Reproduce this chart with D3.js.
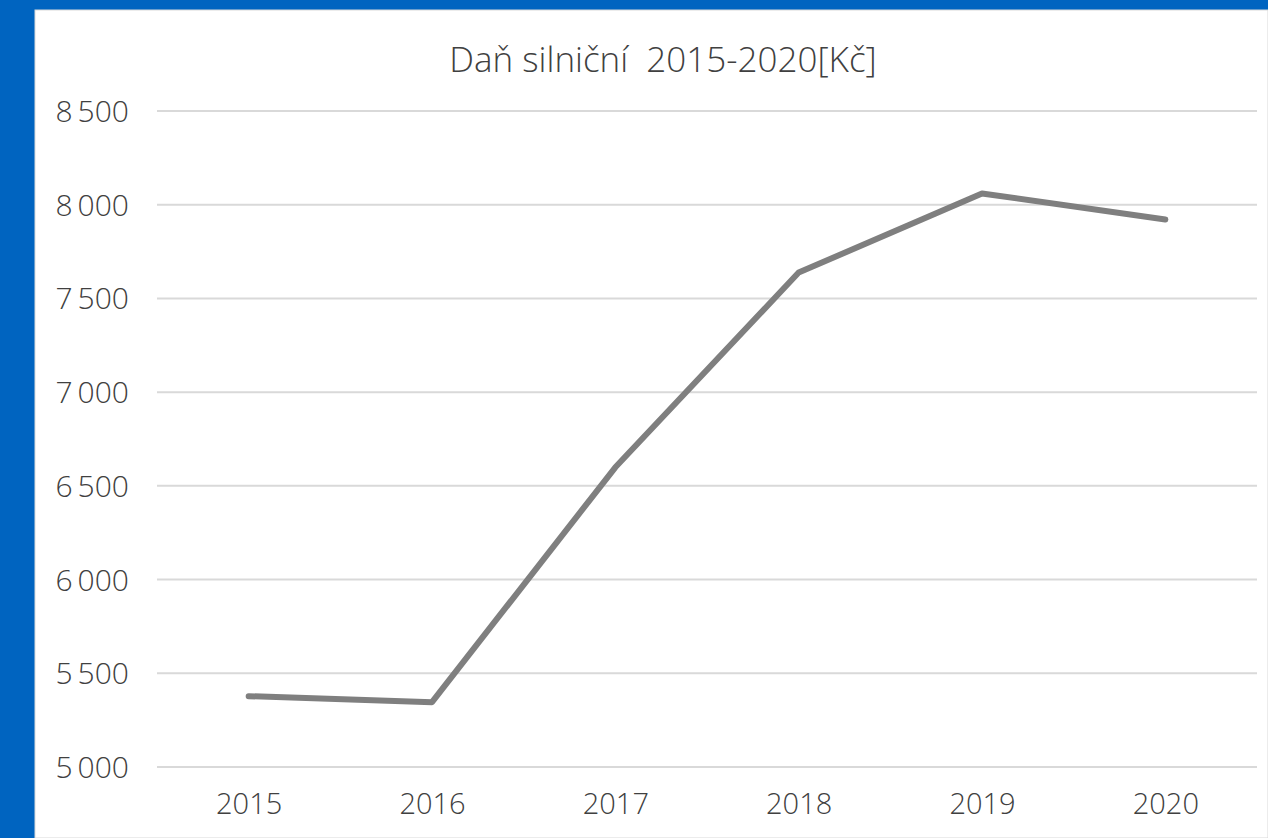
<!DOCTYPE html>
<html>
<head>
<meta charset="utf-8">
<script src="https://cdn.jsdelivr.net/npm/d3@7"></script>
<style>
  body { margin: 0; background: #0064c0; }
  svg { display: block; }
  text { font-family: "Open Sans", "Noto Sans", sans-serif; font-weight: 300; fill: #404040; }
</style>
</head>
<body>
<script>
// road tax per year
var years = ["2015", "2016", "2017", "2018", "2019", "2020"]
var tax = [5378, 5346, 6599, 7638, 8060, 7921]
var yTicks = [5000, 5500, 6000, 6500, 7000, 7500, 8000, 8500]
var title = "Daň silniční  2015-2020[Kč]"

var w = 1268
var h = 838
var plot = {left: 157, right: 1257, top: 111, bottom: 767}

var svg = d3.select("body")
            .append("svg")
            .attr("width", w)
            .attr("height", h)

// white panel on the blue background
svg.append("rect")
   .attr("x", 35)
   .attr("y", 10)
   .attr("width", w - 35)
   .attr("height", h - 10)
   .attr("fill", "#ffffff")
   .attr("stroke", "#d9d9d9")
   .attr("stroke-width", 1)

var xScale = d3.scalePoint()
               .domain(years)
               .range([plot.left, plot.right])
               .padding(0.5)

var yScale = d3.scaleLinear()
               .domain([5000, 8500])
               .range([plot.bottom, plot.top])

var fmt = d3.formatLocale({decimal: ",", thousands: "\u2009", grouping: [3], currency: ["", ""]}).format(",d")

// gridlines
svg.append("g")
   .selectAll("line")
   .data(yTicks)
   .enter()
   .append("line")
   .attr("x1", plot.left)
   .attr("x2", plot.right)
   .attr("y1", function(d) { return yScale(d) })
   .attr("y2", function(d) { return yScale(d) })
   .attr("stroke", "#d9d9d9")
   .attr("stroke-width", 2)

// y axis labels
var yAxis = svg.append("g")
   .attr("transform", "translate(" + (plot.left - 28) + ",0)")
   .call(d3.axisLeft(yScale).tickValues(yTicks).tickFormat(fmt).tickSize(0).tickPadding(0))
yAxis.select(".domain").remove()
yAxis.selectAll("text")
     .style("font-size", "30px")
     .attr("fill", "#404040")
     .attr("dy", "0.35em")

// x axis labels
var xAxis = svg.append("g")
   .attr("transform", "translate(0," + (plot.bottom + 26) + ")")
   .call(d3.axisBottom(xScale).tickSize(0).tickPadding(0))
xAxis.select(".domain").remove()
xAxis.selectAll("text")
     .style("font-size", "29px")
     .attr("fill", "#404040")
     .attr("dy", "0.71em")
d3.selectAll(".tick text").attr("font-family", null)

// line
var line = d3.line()
             .x(function(d, i) { return xScale(years[i]) })
             .y(function(d) { return yScale(d) })

svg.append("path")
   .datum(tax)
   .attr("d", line)
   .attr("fill", "none")
   .attr("stroke", "#7f7f7f")
   .attr("stroke-width", 6)
   .attr("stroke-linecap", "round")
   .attr("stroke-linejoin", "round")

// title
svg.append("text")
   .attr("x", 663)
   .attr("y", 72)
   .attr("text-anchor", "middle")
   .style("font-size", "35px")
   .style("white-space", "pre")
   .text(title)
</script>
</body>
</html>
